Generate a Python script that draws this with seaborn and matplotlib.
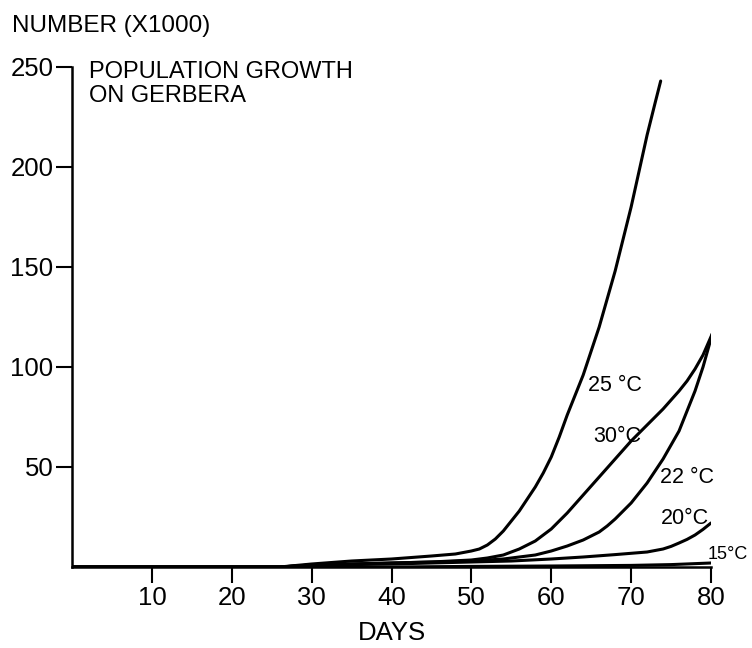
import pandas as pd
import matplotlib
matplotlib.use("Agg")
import matplotlib.pyplot as plt
import seaborn as sns

# valores (dias, numero x1000)
dias_25 = [0, 10, 20, 26, 30, 35, 40, 45, 48, 50, 51, 52, 53, 54, 55, 56, 57, 58, 59, 60, 61, 62, 63, 64, 65,
           66, 67, 68, 69, 70, 71, 72, 73, 73.7]
num_25 = [0, 0, 0, 0, 1.5, 3, 4, 5.5, 6.5, 8, 9, 11, 14, 18, 23, 28, 34, 40, 47, 55, 65, 76, 86, 96, 108,
          120, 134, 148, 164, 180, 198, 216, 232, 243]

dias_30 = [0, 10, 20, 26, 30, 35, 40, 45, 50, 52, 54, 56, 58, 60, 62, 64, 66, 68, 70, 72, 74, 76, 77, 78, 79, 80.2]
num_30 = [0, 0, 0, 0, 1, 1.5, 2, 2.5, 3.5, 4.5, 6, 9, 13, 19, 27, 36, 45, 54, 63, 71, 79, 88, 93, 99, 106, 117]

dias_22 = [0, 10, 20, 26, 30, 35, 40, 45, 50, 52, 54, 56, 58, 60, 62, 64, 66, 67, 68, 69, 70, 71, 72, 73, 74, 75,
           76, 77, 78, 79, 80.2]
num_22 = [0, 0, 0, 0, 1, 1.5, 2, 2.5, 3, 3.5, 4, 5, 6, 8, 10.5, 13.5, 17.5, 20.5, 24, 28, 32, 37, 42, 48, 54, 61,
          68, 78, 88, 100, 117]

dias_20 = [0, 10, 20, 26, 30, 35, 40, 45, 50, 55, 60, 64, 68, 72, 74, 75, 76, 77, 78, 79, 80]
num_20 = [0, 0, 0, 0, 0.8, 1.2, 1.5, 2, 2.5, 3, 4, 5, 6.2, 7.5, 9, 10.3, 12, 13.8, 16, 18.8, 22]

dias_15 = [0, 10, 20, 30, 40, 50, 60, 70, 75, 80]
num_15 = [0, 0, 0, 0, 0, 0.3, 0.5, 0.8, 1.2, 2]

rotulos = ["25 °C", "30°C", "22 °C", "20°C", "15°C"]
pos_rotulos = [(64.6, 88), (65.2, 62.5), (73.6, 42), (73.7, 21.5), (79.6, 4)]
tam_rotulos = [15.5, 15.5, 15.5, 15.5, 13]

xticks = [10, 20, 30, 40, 50, 60, 70, 80]
yticks = [50, 100, 150, 200, 250]

series = [(dias_25, num_25, "25"), (dias_30, num_30, "30"), (dias_22, num_22, "22"),
          (dias_20, num_20, "20"), (dias_15, num_15, "15")]
df = pd.concat([pd.DataFrame({"dia": d, "num": n, "temp": t}) for d, n, t in series])

sns.set_style("ticks")
plt.rcParams["font.family"] = ["Liberation Sans", "DejaVu Sans"]
plt.rcParams["text.color"] = "black"
plt.rcParams["xtick.color"] = "black"
plt.rcParams["ytick.color"] = "black"
plt.rcParams["axes.edgecolor"] = "black"

fig = plt.figure(figsize=(7.52, 6.48), dpi=100)
ax = fig.add_axes([72 / 752, 81 / 648, 639 / 752, 500 / 648])

sns.lineplot(data=df, x="dia", y="num", hue="temp", palette=["black"] * 5,
             estimator=None, sort=False, legend=False, linewidth=2.2, ax=ax)

ax.set_xlim(0, 80)
ax.set_ylim(0, 250)
ax.set_xticks(xticks)
ax.set_yticks(yticks)
ax.tick_params(length=11.5, width=1.5, labelsize=18.5, colors="black", pad=2)
sns.despine(ax=ax)
for s in ["left", "bottom"]:
    ax.spines[s].set_linewidth(1.8)
ax.set_xlabel("")
ax.set_ylabel("")

for txt, (x, y), tam in zip(rotulos, pos_rotulos, tam_rotulos):
    ax.text(x, y, txt, fontsize=tam, ha="left", va="baseline")

ax.text(2.1, 244.5, "POPULATION GROWTH", fontsize=17, ha="left", va="baseline")
ax.text(2.1, 232.5, "ON GERBERA", fontsize=17, ha="left", va="baseline")

fig.text(12 / 752, 1 - 32 / 648, "NUMBER (X1000)", fontsize=17.5, ha="left", va="baseline")
fig.text(392 / 752, 1 - 640 / 648, "DAYS", fontsize=18.5, ha="center", va="baseline")

fig.savefig("out.png", dpi=100)
